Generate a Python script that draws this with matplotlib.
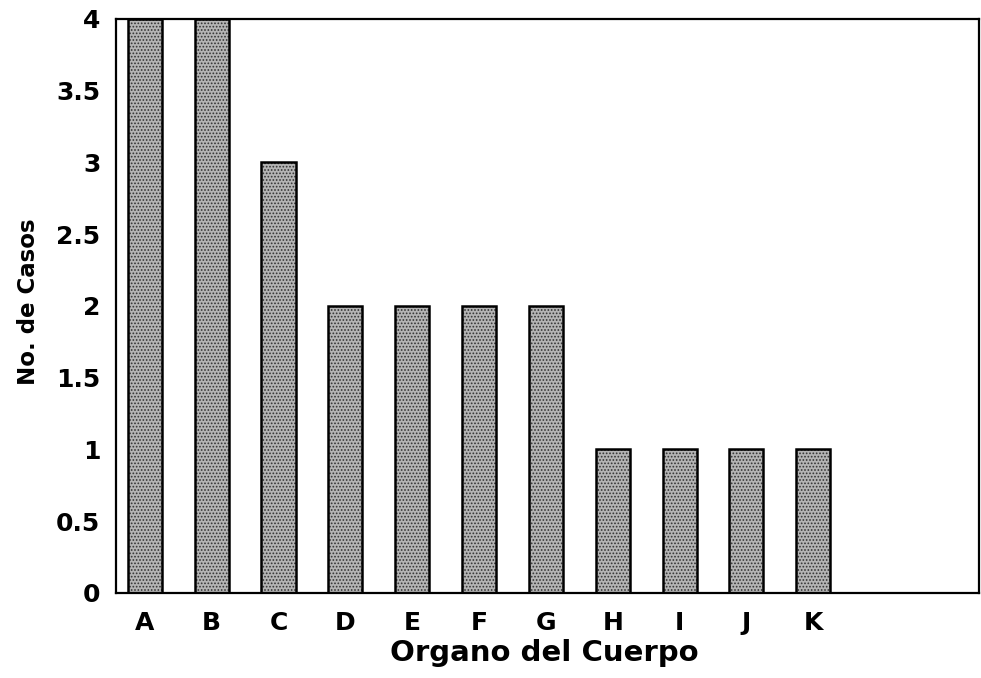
import matplotlib.pyplot as plt

organos = ["A", "B", "C", "D", "E", "F", "G", "H", "I", "J", "K"]
casos = [4, 4, 3, 2, 2, 2, 2, 1, 1, 1, 1]
yticks = [0, 0.5, 1, 1.5, 2, 2.5, 3, 3.5, 4]
ytick_labels = ["0", "0.5", "1", "1.5", "2", "2.5", "3", "3.5", "4"]


def main():
    plt.rcParams['font.family'] = ['DejaVu Sans']
    plt.rcParams['font.weight'] = 'bold'
    plt.rcParams['hatch.linewidth'] = 0.8

    fig = plt.figure(figsize=(9.81, 6.78), dpi=100)
    ax = fig.add_axes([0.118, 0.1254, 0.880, 0.8466])

    x = list(range(len(organos)))
    # dotted grey fill, then the black outline on top
    ax.bar(x, casos, width=0.51, color='#b4b4b4', edgecolor='#333333',
           hatch='.....', linewidth=0)
    ax.bar(x, casos, width=0.51, fill=False, edgecolor='black', linewidth=1.8)

    ax.set_xlim(-0.435, 12.48)
    ax.set_ylim(0, 4)
    ax.set_xticks(x)
    ax.set_xticklabels(organos, fontsize=18, fontweight='bold')
    ax.set_yticks(yticks)
    ax.set_yticklabels(ytick_labels, fontsize=18, fontweight='bold')
    ax.tick_params(axis='x', length=0, pad=13)
    ax.tick_params(axis='y', length=0, pad=11)
    for s in ax.spines.values():
        s.set_linewidth(1.6)

    ax.set_xlabel('Organo del Cuerpo', fontsize=21, fontweight='bold', va='center')
    ax.xaxis.set_label_coords(0.497, -0.1045)
    ax.set_ylabel('No. de Casos', fontsize=16.5, fontweight='bold', va='center')
    ax.yaxis.set_label_coords(-0.1008, 0.507)

    fig.savefig('out.png', dpi=100)


if __name__ == "__main__":
    main()
